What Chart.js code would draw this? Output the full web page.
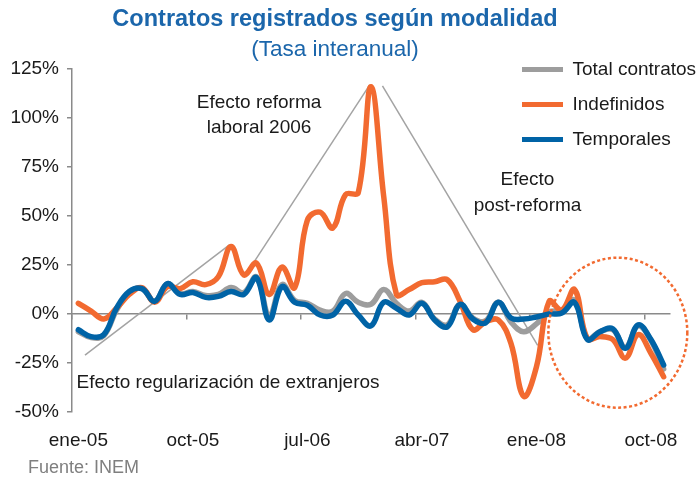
<!DOCTYPE html>
<html>
<head>
<meta charset="utf-8">
<script src="https://cdn.jsdelivr.net/npm/chart.js@4.4.1/dist/chart.umd.min.js"></script>
<style>
  html, body { margin: 0; padding: 0; background: #ffffff; }
</style>
</head>
<body>
<canvas id="grafico" width="698" height="481"></canvas>
<script>
// Datos (tasa interanual, %)
const etiquetas = [
  'ene-05','feb-05','mar-05','abr-05','may-05','jun-05','jul-05','ago-05','sep-05','oct-05','nov-05','dic-05',
  'ene-06','feb-06','mar-06','abr-06','may-06','jun-06','jul-06','ago-06','sep-06','oct-06','nov-06','dic-06',
  'ene-07','feb-07','mar-07','abr-07','may-07','jun-07','jul-07','ago-07','sep-07','oct-07','nov-07','dic-07',
  'ene-08','feb-08','mar-08','abr-08','may-08','jun-08','jul-08','ago-08','sep-08','oct-08','nov-08'
];
const totalContratos = [
  -9, -12, -11, 2, 11, 13, 6.5, 15.5, 10.5, 11.5, 9.5, 10,
  13.5, 11, 19, -1, 15, 7, 5.5, 2, 1.5, 10.5, 6, 5,
  12.5, 5.5, 1.5, 6, -2.5, -5.5, 5, -2, -3.5, 6, -4, -9,
  -5, 1, 2, 7, -12.5, -9, -8, -17, -6, -13.5, -28
];
const indefinidos = [
  5.5, 1.5, -2.5, 3, 10, 13.5, 6, 14, 13, 16.5, 15, 19,
  34.5, 20, 26, 10, 24, 13.5, 48, 52, 44, 61, 62, 116,
  60, 10, 12.5, 16, 16.5, 17.5, 6.5, -8, -4, -3, -15, -42,
  -27, 6.5, 2, 12.5, -12.5, -11.5, -13, -22.5, -10.5, -20, -32
];
const temporales = [
  -8, -11.5, -10.5, 3, 11.5, 13, 6.5, 15.5, 10, 11, 8.5, 9,
  11.5, 10, 18.5, -3, 14, 6, 4.5, -0.5, -0.5, 6.5, -0.5, -6,
  6, 3, -0.5, 5.5, -3, -6.5, 5, -2.5, -4.5, 6, -2, -2.5,
  -1.5, 0, 0.5, 6, -13, -9, -7.5, -17.5, -5.5, -13, -26
];

// Anotaciones en coordenadas de datos: [indice, valor]
const lineasEfecto = [
  [0.52, -21, 11.9, 35.4],
  [13.3, 21.5, 22.9, 117],
  [23.9, 116.5, 36.1, -16]
];
const textosEfecto = [
  ['Efecto reforma', 14.2, 108, 'center'],
  ['laboral 2006', 14.2, 95, 'center'],
  ['Efecto', 35.3, 68.5, 'center'],
  ['post-reforma', 35.3, 55.3, 'center'],
  ['Efecto regularización de extranjeros', -0.15, -35, 'left']
];
const circulo = { centro: 42.4, valor: -9.5, radioX: 5.46, radioY: 38.3 };

const gris = '#9d9d9d';
const naranja = '#f26a30';
const azul = '#0063a6';
const ejes = '#8a8a8a';
const fuenteBase = '"Liberation Sans", Arial, Helvetica, sans-serif';

Chart.defaults.font.family = fuenteBase;
Chart.defaults.font.size = 19;
Chart.defaults.color = '#1a1a1a';

// Plugin para las anotaciones del gráfico
const anotaciones = {
  id: 'anotaciones',
  afterLayout(chart) {
    // Leyenda dentro del área del gráfico, arriba a la derecha
    const leyenda = chart.legend;
    leyenda.left = 506;
    leyenda.top = 44;
    leyenda.right = leyenda.left + leyenda.width;
    leyenda.bottom = leyenda.top + leyenda.height;
  },
  beforeDatasetsDraw(chart) {
    const { ctx, scales: { x, y } } = chart;
    ctx.save();
    ctx.strokeStyle = '#a3a3a3';
    ctx.lineWidth = 1.5;
    lineasEfecto.forEach(l => {
      ctx.beginPath();
      ctx.moveTo(x.getPixelForValue(l[0]), y.getPixelForValue(l[1]));
      ctx.lineTo(x.getPixelForValue(l[2]), y.getPixelForValue(l[3]));
      ctx.stroke();
    });
    ctx.restore();
  },
  afterDatasetsDraw(chart) {
    const { ctx, scales: { x, y } } = chart;
    ctx.save();
    // Círculo discontinuo
    const cx = x.getPixelForValue(circulo.centro);
    const cy = y.getPixelForValue(circulo.valor);
    const rx = x.getPixelForValue(circulo.centro + circulo.radioX) - cx;
    const ry = cy - y.getPixelForValue(circulo.valor + circulo.radioY);
    ctx.strokeStyle = naranja;
    ctx.lineWidth = 2.5;
    ctx.setLineDash([3, 2.5]);
    ctx.beginPath();
    ctx.ellipse(cx, cy, rx, ry, 0, 0, Math.PI * 2);
    ctx.stroke();
    ctx.setLineDash([]);

    // Textos
    ctx.fillStyle = '#1a1a1a';
    ctx.font = '19px ' + fuenteBase;
    ctx.textBaseline = 'middle';
    textosEfecto.forEach(t => {
      ctx.textAlign = t[3];
      ctx.fillText(t[0], x.getPixelForValue(t[1]), y.getPixelForValue(t[2]));
    });
    ctx.restore();
  },
  afterDraw(chart) {
    const ctx = chart.ctx;
    ctx.save();
    ctx.fillStyle = '#7f7f7f';
    ctx.font = '18px ' + fuenteBase;
    ctx.textAlign = 'left';
    ctx.textBaseline = 'middle';
    ctx.fillText('Fuente: INEM', 28, 468);
    ctx.restore();
  }
};

const ctx = document.getElementById('grafico').getContext('2d');
new Chart(ctx, {
  type: 'line',
  data: {
    labels: etiquetas,
    datasets: [
      { label: 'Total contratos', data: totalContratos, borderColor: gris, backgroundColor: gris, pointBorderColor: gris, order: 3 },
      { label: 'Indefinidos', data: indefinidos, borderColor: naranja, backgroundColor: naranja, pointBorderColor: naranja, order: 2 },
      { label: 'Temporales', data: temporales, borderColor: azul, backgroundColor: azul, pointBorderColor: azul, order: 1 }
    ]
  },
  options: {
    responsive: false,
    animation: false,
    devicePixelRatio: 1,
    layout: { padding: { top: 0, right: 28, bottom: 27, left: 0 } },
    elements: {
      line: { borderWidth: 5.5, tension: 0.4, borderCapStyle: 'round', borderJoinStyle: 'round' },
      point: { radius: 0, borderWidth: 5 }
    },
    plugins: {
      title: {
        display: true,
        text: 'Contratos registrados según modalidad',
        color: '#1b66ab',
        font: { size: 23.5, weight: 'bold', lineHeight: 1.2 },
        padding: { top: 5, bottom: 0 }
      },
      subtitle: {
        display: true,
        text: '(Tasa interanual)',
        color: '#1b66ab',
        font: { size: 22.5, lineHeight: 1.2 },
        padding: { top: 3, bottom: 6 }
      },
      legend: {
        position: 'chartArea',
        align: 'start',
        labels: {
          usePointStyle: true,
          pointStyle: 'line',
          pointStyleWidth: 41,
          padding: 16,
          font: { size: 19 },
          color: '#1a1a1a',
          sort: (a, b) => a.datasetIndex - b.datasetIndex
        }
      },
      tooltip: { enabled: false }
    },
    scales: {
      x: {
        type: 'category',
        offset: true,
        grid: { display: false, drawTicks: false },
        border: { display: false },
        ticks: {
          autoSkip: false,
          maxRotation: 0,
          padding: 17,
          color: '#1a1a1a',
          callback: function (value, index) {
            return index % 9 === 0 ? this.getLabelForValue(value) : '';
          }
        },
        afterFit: scale => { scale.height = 42; }
      },
      x2: {
        type: 'category',
        axis: 'x',
        position: { y: 0 },
        offset: true,
        grid: {
          offset: true,
          drawOnChartArea: false,
          drawTicks: true,
          tickLength: 5,
          lineWidth: 1.5,
          color: c => (c.index % 9 === 0 ? ejes : 'transparent')
        },
        border: { display: true, color: ejes, width: 1.5 },
        ticks: { display: false }
      },
      y: {
        min: -50,
        max: 125,
        grid: { drawOnChartArea: false, drawTicks: true, tickLength: 5, color: ejes, lineWidth: 1.5 },
        border: { display: true, color: ejes, width: 1.5 },
        ticks: {
          stepSize: 25,
          padding: 8,
          color: '#1a1a1a',
          callback: v => v + '%'
        },
        afterFit: scale => { scale.width = 72; }
      }
    }
  },
  plugins: [anotaciones]
});
</script>
</body>
</html>
